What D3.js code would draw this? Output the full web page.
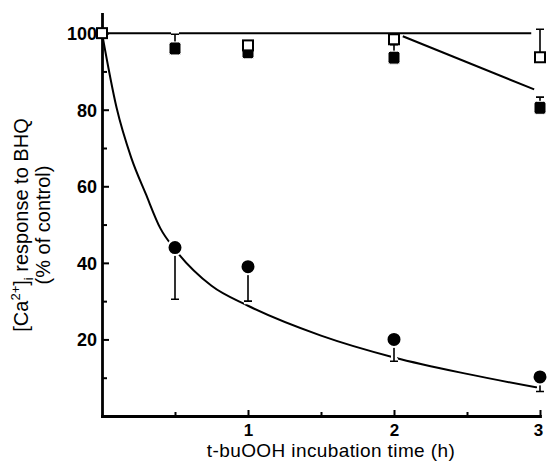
<!DOCTYPE html>
<html>
<head>
<meta charset="utf-8">
<script src="https://cdn.jsdelivr.net/npm/d3@7"></script>
<style>
  body { margin: 0; background: #fff; }
  svg { display: block; font-family: "Liberation Sans", Arial, sans-serif; }
</style>
</head>
<body>
<svg id="chart"></svg>
<script>
// t-buOOH treated, filled circles (mean, lower error)
const circleTimes = [0, 0.5, 1, 2, 3];
const circleVals = [100, 44, 39, 20, 10.2];
const circleErrLow = [100, 30.5, 30, 14.3, 6.4];

// fitted curve through circles
const fitX = [0, 0.1, 0.2, 0.3, 0.4, 0.5, 0.75, 1, 1.5, 2, 2.5, 3];
const fitY = [100, 80.5, 67.5, 58, 49, 43.5, 34, 28.8, 21, 15.3, 11, 7.3];

// filled squares (mean, upper error)
const fsqTimes = [0.5, 1, 2, 3];
const fsqVals = [96, 95, 93.6, 80.5];
const fsqErrHigh = [99.7, 96.5, 97, 83.3];

// open squares (control)
const osqTimes = [0, 1, 2, 3];
const osqVals = [100, 96.8, 98.4, 93.7];
const osqErrHigh = [100, 97, 98.5, 101];

// straight lines for the squares
const controlLineX = [0, 2.94];
const controlLineY = [100, 100];
const treatLineX = [2.06, 2.96];
const treatLineY = [99.2, 85.3];

const xTicks = [1, 2, 3];
const xMinor = [0.5, 1.5, 2.5];
const yTicks = [20, 40, 60, 80, 100];
const yMinor = [10, 30, 50, 70, 90];

const width = 548, height = 471;
const svg = d3.select('#chart').attr('width', width).attr('height', height);

const x = d3.scaleLinear().domain([0, 3]).range([102, 540]);
const y = d3.scaleLinear().domain([0, 105]).range([416, 14]);

// axes
const yAxis = svg.append('g')
    .attr('transform', `translate(${x(0)},0)`)
    .call(d3.axisLeft(y).tickValues(yTicks).tickSizeInner(-7).tickSizeOuter(0).tickPadding(5));
svg.append('g')
    .attr('transform', `translate(${x(0)},0)`)
    .call(d3.axisLeft(y).tickValues(yMinor).tickSizeInner(-5).tickSizeOuter(0).tickFormat(''))
    .select('.domain').remove();

const xAxis = svg.append('g')
    .attr('transform', `translate(0,${y(0)})`)
    .call(d3.axisBottom(x).tickValues(xTicks).tickFormat(d3.format('d'))
        .tickSizeInner(-6).tickSizeOuter(0).tickPadding(8));
svg.append('g')
    .attr('transform', `translate(0,${y(0)})`)
    .call(d3.axisBottom(x).tickValues(xMinor).tickSizeInner(-4).tickSizeOuter(0).tickFormat(''))
    .select('.domain').remove();

svg.selectAll('.domain').attr('stroke', '#000').attr('stroke-width', 2.8).attr('stroke-linecap', 'square');
svg.selectAll('.tick line').attr('stroke', '#000').attr('stroke-width', 2);
svg.selectAll('.tick text')
    .attr('fill', '#000')
    .style('font-size', '18px')
    .style('font-weight', 'bold');
xAxis.selectAll('.tick text').style('font-size', '17px');
xAxis.selectAll('.tick:last-of-type text').attr('dx', -2);
yAxis.selectAll('.tick text').attr('dy', '0.36em');

// axis titles
svg.append('text')
    .attr('x', 331).attr('y', 457)
    .attr('text-anchor', 'middle')
    .style('font-size', '19px')
    .style('letter-spacing', '0.4px')
    .text('t-buOOH incubation time (h)');

const ylab = svg.append('text')
    .attr('transform', 'translate(28,225) rotate(-90)')
    .attr('text-anchor', 'middle')
    .style('font-size', '20px');
ylab.append('tspan').text('[Ca');
ylab.append('tspan').attr('dy', -8).style('font-size', '13px').text('2+');
ylab.append('tspan').attr('dy', 8).text(']');
ylab.append('tspan').attr('dy', 5).style('font-size', '13px').text('i');
ylab.append('tspan').attr('dy', -5).text(' response to BHQ');

svg.append('text')
    .attr('transform', 'translate(50,225) rotate(-90)')
    .attr('text-anchor', 'middle')
    .style('font-size', '20px')
    .text('(% of control)');

// lines
const line = d3.line().x(d => x(d[0])).y(d => y(d[1]));

svg.append('path')
    .attr('d', line(d3.zip(controlLineX, controlLineY)))
    .attr('fill', 'none').attr('stroke', '#000').attr('stroke-width', 2);
svg.append('path')
    .attr('d', line(d3.zip(treatLineX, treatLineY)))
    .attr('fill', 'none').attr('stroke', '#000').attr('stroke-width', 2);

svg.append('path')
    .attr('d', line.curve(d3.curveMonotoneX)(d3.zip(fitX, fitY)))
    .attr('fill', 'none').attr('stroke', '#000').attr('stroke-width', 2);

// error bars with a white halo so lines break around them
function errBars(xs, vs, es) {
    const data = d3.zip(xs, vs, es).filter(d => Math.abs(d[1] - d[2]) > 0.5);
    const cap = 4;
    const path = d => `M${x(d[0])},${y(d[1])}V${y(d[2])}M${x(d[0]) - cap},${y(d[2])}H${x(d[0]) + cap}`;
    svg.append('g').selectAll('path').data(data).join('path')
        .attr('d', path).attr('fill', 'none').attr('stroke', '#fff').attr('stroke-width', 6);
    svg.append('g').selectAll('path').data(data).join('path')
        .attr('d', path).attr('fill', 'none').attr('stroke', '#000').attr('stroke-width', 1.6);
}
errBars(circleTimes, circleVals, circleErrLow);
errBars(fsqTimes, fsqVals, fsqErrHigh);
errBars(osqTimes, osqVals, osqErrHigh);

// markers
svg.append('g').selectAll('circle')
    .data(d3.zip(circleTimes, circleVals).slice(1))
    .join('circle')
    .attr('cx', d => x(d[0])).attr('cy', d => y(d[1])).attr('r', 7.5)
    .attr('fill', '#000').attr('stroke', '#fff').attr('stroke-width', 2);

svg.append('g').selectAll('rect')
    .data(d3.zip(fsqTimes, fsqVals))
    .join('rect')
    .attr('x', d => x(d[0]) - 6).attr('y', d => y(d[1]) - 6.5)
    .attr('width', 12).attr('height', 13).attr('rx', 2.5)
    .attr('fill', '#000').attr('stroke', '#fff').attr('stroke-width', 1);

svg.append('g').selectAll('rect')
    .data(d3.zip(osqTimes, osqVals))
    .join('rect')
    .attr('x', d => x(d[0]) - 5).attr('y', d => y(d[1]) - 5)
    .attr('width', 10).attr('height', 10)
    .attr('fill', '#fff').attr('stroke', '#000').attr('stroke-width', 2);
</script>
</body>
</html>
